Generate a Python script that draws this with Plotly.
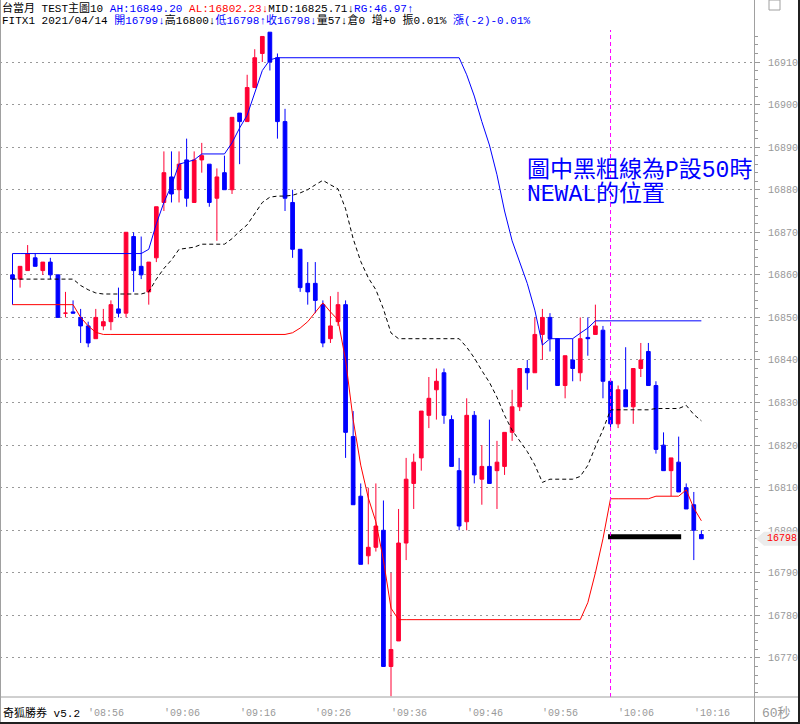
import plotly.graph_objects as go
import pandas as pd

# ---------------- data ----------------
TIMES = pd.date_range("2021-04-14 08:46", periods=92, freq="min").strftime("%H:%M").tolist()

OPEN = [16860, 16859, 16861, 16864, 16861, 16863, 16860, 16851, 16851.3, 16850,
        16848, 16845, 16848, 16849, 16852, 16851, 16869, 16862, 16856, 16864,
        16877, 16883, 16880, 16887, 16877, 16887, 16886, 16878, 16884, 16880,
        16898, 16896, 16904, 16912, 16917, 16911, 16896, 16877, 16866, 16858,
        16858, 16853, 16845, 16849, 16853, 16822, 16808, 16794, 16796, 16800,
        16768, 16774, 16797, 16811, 16817, 16827, 16833, 16837, 16826, 16814,
        16802, 16827, 16812, 16815, 16814, 16815, 16823, 16829, 16838, 16837,
        16846, 16850, 16845, 16834, 16840, 16837, 16845.3, 16846, 16847, 16835,
        16825, 16833, 16829, 16838, 16842, 16834, 16820, 16814, 16816, 16810,
        16806, 16799]
HIGH = [16860, 16862, 16867, 16865, 16863, 16864, 16860, 16856, 16854, 16852,
        16849, 16852, 16852, 16854, 16857, 16870, 16870, 16869, 16863, 16876,
        16889, 16889, 16889, 16892, 16889, 16891, 16886, 16885, 16888, 16897,
        16898, 16907, 16913, 16916, 16917, 16912, 16899, 16880, 16866, 16863,
        16863, 16854, 16855, 16856, 16854, 16828, 16811, 16810, 16811, 16807,
        16790, 16805, 16817, 16818, 16828, 16836, 16838, 16838, 16827, 16817,
        16831, 16828, 16820, 16826, 16821, 16823, 16833, 16838, 16840, 16850,
        16852, 16851, 16845, 16841, 16845, 16850, 16850, 16853, 16848, 16835,
        16834, 16843, 16838, 16844, 16844, 16835, 16823, 16817, 16822, 16811,
        16809, 16800]
LOW = [16859, 16857, 16861, 16862, 16860, 16859, 16850, 16850, 16851, 16844,
       16843, 16845, 16847, 16847, 16850, 16850, 16856, 16859, 16853, 16863,
       16875, 16877, 16877, 16876, 16877, 16884, 16876, 16868, 16880, 16879,
       16886, 16896, 16904, 16910, 16908, 16892, 16875, 16864, 16856, 16853,
       16851, 16843, 16844, 16848, 16817, 16806, 16792, 16792, 16795, 16768,
       16761, 16774, 16793, 16805, 16814, 16824, 16826, 16825, 16815, 16800,
       16800, 16811, 16806, 16811, 16805, 16813, 16821, 16828, 16833, 16837,
       16840, 16842, 16834, 16831, 16835, 16835, 16841, 16846, 16831, 16824,
       16824, 16829, 16825, 16836, 16834, 16818, 16814, 16808, 16809, 16805,
       16793, 16798]
CLOSE = [16859, 16862, 16865, 16862, 16863, 16860, 16850, 16851, 16851, 16848,
         16844, 16850, 16849, 16853, 16851, 16870, 16861, 16860, 16863, 16876,
         16884, 16879, 16886, 16878, 16887, 16888, 16877, 16883, 16880, 16897,
         16896, 16904, 16911, 16916, 16910, 16896, 16878, 16866, 16857, 16856,
         16854, 16844, 16848, 16853, 16823, 16806, 16792, 16796, 16801, 16768,
         16772, 16797, 16812, 16816, 16828, 16831, 16835, 16827, 16815, 16801,
         16827, 16813, 16815, 16811, 16816, 16823, 16829, 16838, 16837, 16846,
         16850, 16845, 16834, 16841, 16838, 16845, 16845, 16848, 16835, 16825,
         16833, 16829, 16838, 16840, 16834, 16819, 16814, 16817, 16809, 16805,
         16800, 16798]

# upper channel line (NEWAH) and lower channel line (NEWAL), one value per bar
NEWAH = [16865] * 18 + [16866, 16872, 16877, 16881, 16886, 16886.5, 16887] + [16888.4] * 4 + \
        [16891, 16894.5, 16897.5, 16903, 16908, 16910.5] + [16911] * 25 + \
        [16907, 16902, 16896, 16890.5, 16883.5, 16875, 16868, 16863, 16858, 16851.7, 16843.5] + \
        [16845] * 4 + [16846.3, 16847.5] + [16849.2] * 15
NEWAL = [16853] * 9 + [16850, 16848, 16846.5] + [16846] * 25 + \
        [16846.4, 16847.5, 16849, 16851.3, 16853.4, 16851.3, 16849.4, 16840, 16826, 16815.3,
         16807.6, 16802, 16793, 16781.7] + [16779] * 25 + [16783, 16790, 16798] + \
        [16807.4] * 6 + [16808] * 4 + [16809.5, 16805.2, 16802.23]
MID = [(a + b) / 2 for a, b in zip(NEWAH, NEWAL)]

# thick black line: NEWAL position when P = 50
P50_START, P50_END, P50_LEVEL = "10:05", "10:14", 16798.5
MARK_TIME = "10:05"          # magenta dashed vertical marker

YTICKS = list(range(16770, 16911, 10))
TIME_TICKS = ["08:56", "09:06", "09:16", "09:26", "09:36", "09:46", "09:56", "10:06", "10:16"]

VOLUME, OI, OI_CHG = 57, 0, 0

# ---------------- figure ----------------
W, H = 800, 724
ML, MR, MT, MB = 0, 46, 30, 27
PW, PH = W - ML - MR, H - MT - MB

def px(xpix):
    return (xpix - ML) / PW

def py(ypix):
    return (H - MB - ypix) / PH

X = list(range(len(TIMES)))
idx = {t: i for i, t in enumerate(TIMES)}

RED = "#ff0033"
BLUE = "#0000ff"

fig = go.Figure()
fig.add_trace(go.Candlestick(
    x=X, open=OPEN, high=HIGH, low=LOW, close=CLOSE,
    increasing=dict(line=dict(color=RED, width=1), fillcolor=RED),
    decreasing=dict(line=dict(color=BLUE, width=1), fillcolor=BLUE),
    whiskerwidth=0, hoverinfo="skip", showlegend=False))

fig.add_trace(go.Scatter(x=[X[0]] + X, y=[NEWAL[0]] + NEWAH, mode="lines",
                         line=dict(color=BLUE, width=1), hoverinfo="skip", showlegend=False))
fig.add_trace(go.Scatter(x=X, y=NEWAL, mode="lines",
                         line=dict(color="#ff0000", width=1), hoverinfo="skip", showlegend=False))
fig.add_trace(go.Scatter(x=X, y=MID, mode="lines",
                         line=dict(color="#000000", width=1, dash="4px,3px"), hoverinfo="skip", showlegend=False))

b0, b1 = idx[P50_START], idx[P50_END]
fig.add_trace(go.Scatter(x=[b0 - 0.33, b1 + 0.33], y=[P50_LEVEL, P50_LEVEL], mode="lines",
                         line=dict(color="#000000", width=5), hoverinfo="skip", showlegend=False))

shapes = []
# magenta marker
shapes.append(dict(type="line", xref="x", yref="paper", x0=idx[MARK_TIME], x1=idx[MARK_TIME], y0=0, y1=1,
                   line=dict(color="#ff00ff", width=1, dash="4px,3px")))
# frame lines
shapes.append(dict(type="line", xref="paper", yref="paper", x0=px(0.5), x1=px(0.5), y0=py(H), y1=py(0),
                   line=dict(color="#a0a0a0", width=1)))
shapes.append(dict(type="line", xref="paper", yref="paper", x0=px(0), x1=px(W), y0=py(697), y1=py(697),
                   line=dict(color="#a0a0a0", width=1)))
shapes.append(dict(type="line", xref="paper", yref="paper", x0=px(754.5), x1=px(754.5), y0=py(H), y1=py(0),
                   line=dict(color="#a0a0a0", width=1)))
shapes.append(dict(type="line", xref="paper", yref="paper", x0=px(799), x1=px(799), y0=py(H), y1=py(0),
                   line=dict(color="#202020", width=2)))
shapes.append(dict(type="line", xref="paper", yref="paper", x0=px(0), x1=px(W), y0=py(723), y1=py(723),
                   line=dict(color="#202020", width=2)))
shapes.append(dict(type="rect", xref="paper", yref="paper", x0=px(769), x1=px(780), y0=py(10), y1=py(0),
                   line=dict(color="#a0a0a0", width=1)))
# last price tag
c = CLOSE[-1]
k = 1 / 4.257  # price units per pixel
tag = "M {a},{c} L {b},{t} L {e},{t} L {e},{bt} L {b},{bt} Z".format(
    a=px(756), b=px(764), e=px(798), c=c, t=c + 7 * k, bt=c - 7 * k)
shapes.append(dict(type="path", xref="paper", yref="y", path=tag,
                   fillcolor="#ececec", line=dict(width=0), layer="above"))

ann = []
MONO = "Liberation Mono, Noto Sans CJK TC, monospace"

def span(txt, col):
    return '<span style="color:%s">%s</span>' % (col, txt)

ah, al = NEWAH[-1], NEWAL[-1]
line1 = (span("台當月 TEST主圖10 ", "#000000") + span("AH:%.2f " % ah, BLUE) +
         span("AL:%.2f↓" % al, "#ff0000") + span("MID:%.2f↓" % ((ah + al) / 2 - 0.001), "#000000") +
         span("RG:%.2f↑" % (ah - al), BLUE))
chg = CLOSE[-1] - CLOSE[-2]
o, h, l, cl = OPEN[-1], HIGH[-1], LOW[-1], CLOSE[-1]
line2 = (span("FITX1 2021/04/14 ", "#000000") + span("開%d↓" % o, BLUE) + span("高%d↓" % h, "#000000") +
         span("低%d↑收%d↓" % (l, cl), BLUE) +
         span("量%d↓倉%d 增+%d 振%.2f%% " % (VOLUME, OI, OI_CHG, (h - l) / cl * 100), "#000000") +
         span("漲(%d)%.2f%%" % (chg, chg / CLOSE[-2] * 100), BLUE))
ann.append(dict(xref="paper", yref="paper", x=px(0), y=py(8), xanchor="left", yanchor="middle",
                text=line1, showarrow=False, font=dict(family=MONO, size=11, color="#000000")))
ann.append(dict(xref="paper", yref="paper", x=px(0), y=py(20), xanchor="left", yanchor="middle",
                text=line2, showarrow=False, font=dict(family=MONO, size=11, color="#000000")))

# note text
ann.append(dict(xref="paper", yref="paper", x=px(525), y=py(170), xanchor="left", yanchor="middle",
                text="圖中黑粗線為P設50時", showarrow=False,
                font=dict(family=MONO, size=23, color=BLUE)))
ann.append(dict(xref="paper", yref="paper", x=px(525), y=py(195), xanchor="left", yanchor="middle",
                text="NEWAL的位置", showarrow=False,
                font=dict(family=MONO, size=23, color=BLUE)))

# time labels
for t in TIME_TICKS:
    ann.append(dict(xref="x", yref="paper", x=idx[t], y=py(713), xanchor="left", yanchor="middle",
                    xshift=-2, text="'" + t, showarrow=False,
                    font=dict(family=MONO, size=10, color="#999999")))
ann.append(dict(xref="paper", yref="paper", x=px(1), y=py(713), xanchor="left", yanchor="middle",
                text="奇狐勝券 v5.2", showarrow=False, font=dict(family=MONO, size=11, color="#000000")))
ann.append(dict(xref="paper", yref="paper", x=px(760), y=py(713), xanchor="left", yanchor="middle",
                text="60秒", showarrow=False, font=dict(family=MONO, size=13, color="#999999")))
# last price label
ann.append(dict(xref="paper", yref="y", x=px(765), y=c, xanchor="left", yanchor="middle",
                text=str(int(c)), showarrow=False, font=dict(family=MONO, size=10, color="#ff0000")))

fig.update_layout(
    width=W, height=H, margin=dict(l=ML, r=MR, t=MT, b=MB),
    paper_bgcolor="white", plot_bgcolor="white", showlegend=False,
    xaxis=dict(range=[-12.5 / 7.57, (754 - 12.5) / 7.57], showgrid=False, showticklabels=False,
               zeroline=False, showline=False, ticks="", rangeslider=dict(visible=False), fixedrange=True),
    yaxis=dict(range=[16910 - (697 - 62) / 4.257, 16910 + (62 - 30) / 4.257], side="right",
               tickvals=YTICKS, ticktext=[str(v) for v in YTICKS],
               showgrid=True, gridcolor="#999999", griddash="2px,4px", gridwidth=1,
               ticks="outside", ticklen=5, tickcolor="#999999",
               tickfont=dict(family=MONO, size=10, color="#999999"),
               showline=False, zeroline=False, ticklabelstandoff=6,
               minor=dict(dtick=2, ticks="outside", ticklen=3, tickcolor="#999999", showgrid=False)),
    shapes=shapes, annotations=ann,
)

fig.write_html("out.html", config={"displayModeBar": False},
               post_script="document.body.style.margin='0';document.body.style.overflow='hidden';")
